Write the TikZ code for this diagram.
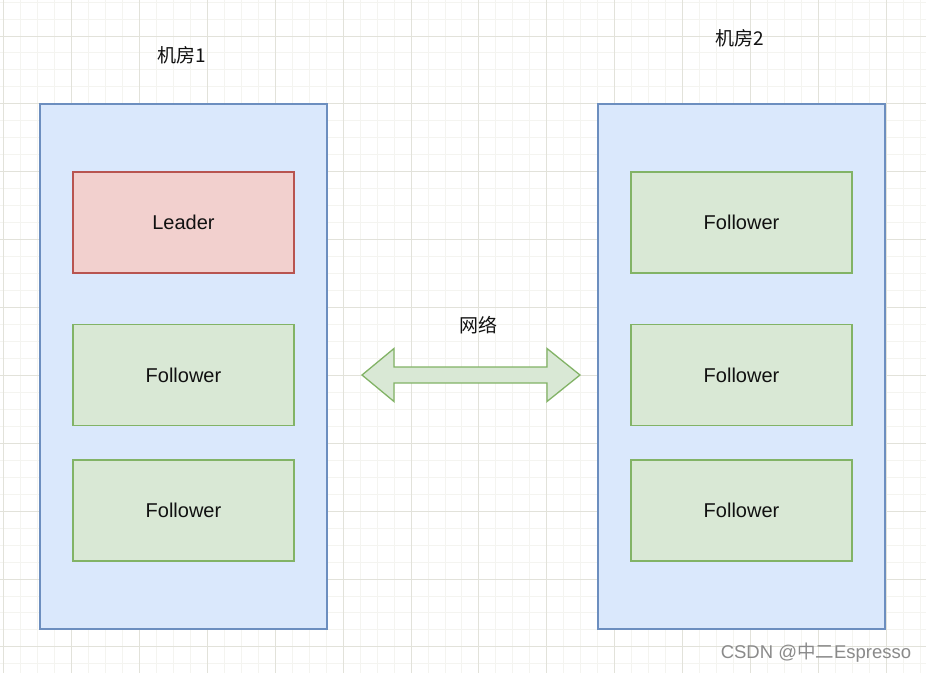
\documentclass[tikz,border=0pt]{standalone}
\usepackage{fontspec}
\setmainfont{Liberation Sans}
\newfontfamily\cjk{Noto Sans CJK SC}
\usetikzlibrary{positioning}
\definecolor{ink}{HTML}{111111}
\definecolor{roomfill}{HTML}{DAE8FC}
\definecolor{roomline}{HTML}{6C8EBF}
\definecolor{leadfill}{HTML}{F2D0CE}
\definecolor{leadline}{HTML}{B85450}
\definecolor{follfill}{HTML}{D9E8D5}
\definecolor{follline}{HTML}{82B366}
\definecolor{gridminor}{HTML}{F4F4F0}
\definecolor{gridmajor}{HTML}{E2E2DA}
\definecolor{wmark}{HTML}{8A8A8A}
\tikzset{
  figbase/.style={
    x=1pt, y=-1pt,
    font=\fontsize{20}{24}\selectfont,
    color=ink,
    line join=miter,
  },
  gminor/.style={draw=gridminor, line width=1pt},
  gmajor/.style={draw=gridmajor, line width=1pt},
  room/.style={
    draw=roomline, fill=roomfill, line width=1.3pt,
    minimum width=287pt, minimum height=525pt,
    inner sep=0pt,
  },
  srv/.style={
    line width=1.3pt, inner sep=0pt,
    minimum width=221pt, minimum height=101pt,
    align=center, text=ink,
  },
  leader/.style={srv, fill=leadfill, draw=leadline},
  follower/.style={srv, fill=follfill, draw=follline},
  lab/.style={font=\cjk\fontsize{19}{23}\selectfont, text=ink, inner sep=0pt},
  link/.style={draw=follline, fill=follfill, line width=1.3pt},
  wm/.style={text=wmark, font=\fontsize{18.5}{22}\selectfont, inner sep=0pt},
}

\begin{document}
\begin{tikzpicture}[figbase]
  \useasboundingbox[fill=white] (0,0) rectangle (926,673);

  % background grid
  \foreach \i in {0,...,54}
    \draw[gminor] ({3.8+16.97*\i},0) -- ({3.8+16.97*\i},673);
  \foreach \j in {0,...,39}
    \draw[gminor] (0,{2.06+16.97*\j}) -- (926,{2.06+16.97*\j});
  \foreach \i in {0,...,13}
    \draw[gmajor] ({3.8+67.88*\i},0) -- ({3.8+67.88*\i},673);
  \foreach \j in {0,...,9}
    \draw[gmajor] (0,{36+67.88*\j}) -- (926,{36+67.88*\j});

  % rooms
  \node[room] (dc1) at (183.5,366.5) {};
  \node[room] (dc2) at (741.5,366.5) {};
  \node[lab] (dc1lab) at (182,55) {机房1};
  \node[lab] (dc2lab) at (740,38) {机房2};

  % servers in room 1
  \node[leader] (lead) at (183.5,222.5) {Leader};
  \node[follower] (f11) at (183.5,375) {Follower};
  \node[follower] (f12) at (183.5,510.5) {Follower};

  % servers in room 2
  \node[follower] (f21) at (741.5,222.5) {Follower};
  \node[follower] (f22) at (741.5,375) {Follower};
  \node[follower] (f23) at (741.5,510.5) {Follower};

  % network link
  \coordinate (net) at (471,375);
  \draw[link] (net) ++(-109,0) -- ++(32,-26.5) -- ++(0,18.5) -- ++(153,0)
    -- ++(0,-18.5) -- ++(33,26.5) -- ++(-33,26.5) -- ++(0,-18.5)
    -- ++(-153,0) -- ++(0,18.5) -- cycle;
  \node[lab] (netlab) at (478,325) {网络};

  \node[wm] (mark) at (816,653) {CSDN @{\cjk 中二}Espresso};
\end{tikzpicture}
\end{document}
